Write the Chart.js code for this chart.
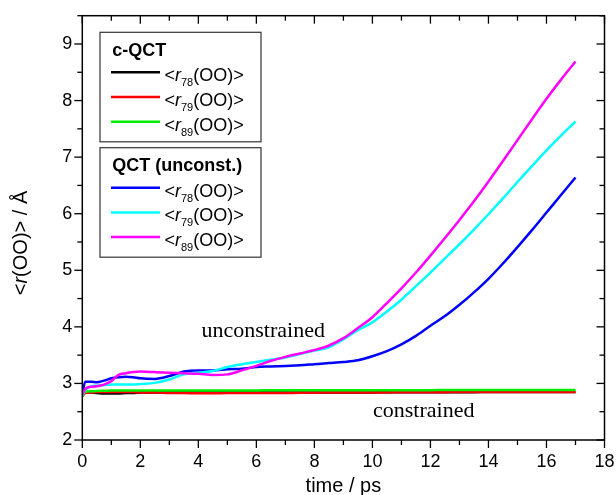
<!DOCTYPE html>
<html><head><meta charset="utf-8">
<script src="https://cdn.jsdelivr.net/npm/chart.js@4"></script>
<style>html,body{margin:0;padding:0;background:#fff}#wrap{width:616px;height:495px;position:relative}</style>
</head><body><div id="wrap"><canvas id="c" width="616" height="495"></canvas></div>
<script>
// ---------------- data ----------------
const timePs = [0,0.1,0.3,0.5,0.75,1,1.25,1.5,1.75,2,2.5,3,3.5,4,4.5,5,5.5,6,6.5,7,7.5,8,8.5,9,9.5,10,10.5,11,11.5,12,12.5,13,13.5,14,14.5,15,15.5,16,16.5,17];

// c-QCT (constrained)
const cqctR78 = [2.78,2.84,2.84,2.83,2.82,2.82,2.82,2.83,2.83,2.84,2.84,2.84,2.84,2.84,2.84,2.84,2.84,2.84,2.84,2.84,2.84,2.84,2.84,2.84,2.84,2.84,2.845,2.845,2.845,2.845,2.845,2.845,2.845,2.85,2.85,2.85,2.85,2.85,2.85,2.85];
const cqctR79 = [2.78,2.83,2.84,2.85,2.85,2.85,2.85,2.85,2.85,2.84,2.84,2.83,2.83,2.825,2.825,2.83,2.83,2.83,2.83,2.83,2.835,2.835,2.84,2.84,2.84,2.84,2.84,2.845,2.845,2.845,2.845,2.85,2.85,2.85,2.85,2.85,2.85,2.85,2.85,2.85];
const cqctR89 = [2.78,2.85,2.86,2.865,2.87,2.875,2.875,2.875,2.875,2.875,2.875,2.875,2.875,2.875,2.875,2.875,2.875,2.875,2.88,2.88,2.88,2.88,2.88,2.88,2.88,2.88,2.88,2.88,2.88,2.88,2.885,2.885,2.885,2.885,2.885,2.885,2.885,2.885,2.885,2.885];

// QCT (unconstrained)
const qctR78 = [2.80,3.03,3.03,3.02,3.05,3.09,3.11,3.12,3.11,3.09,3.08,3.13,3.21,3.23,3.23,3.25,3.26,3.29,3.30,3.31,3.32,3.34,3.36,3.38,3.41,3.48,3.57,3.69,3.84,4.02,4.19,4.39,4.61,4.85,5.12,5.41,5.71,6.02,6.33,6.64];
const qctR79 = [2.80,2.88,2.95,2.96,2.97,2.98,2.98,2.98,2.98,2.99,3.01,3.07,3.16,3.19,3.22,3.29,3.34,3.38,3.42,3.46,3.52,3.58,3.64,3.78,3.94,4.08,4.27,4.48,4.72,4.96,5.21,5.46,5.72,5.99,6.27,6.56,6.84,7.12,7.38,7.63];
const qctR89 = [2.80,2.90,2.94,2.95,2.98,3.04,3.15,3.18,3.20,3.21,3.20,3.19,3.18,3.17,3.15,3.16,3.23,3.31,3.40,3.47,3.53,3.59,3.67,3.80,3.98,4.17,4.42,4.68,4.96,5.26,5.57,5.89,6.22,6.57,6.93,7.30,7.67,8.03,8.37,8.69];

const xTickValues = [0,2,4,6,8,10,12,14,16,18];
const yTickValues = [2,3,4,5,6,7,8,9];

const legendGroups = [
  { title: 'c-QCT', subs: ['78','79','89'], colors: ['#000000','#ff0000','#00ee00'] },
  { title: 'QCT (unconst.)', subs: ['78','79','89'], colors: ['#0000ff','#00ffff','#ff00ff'] }
];

const xTitle = 'time / ps';
const annotations = [
  { text: 'unconstrained', t: 4.11, v: 3.82 },
  { text: 'constrained', t: 10.02, v: 2.415 }
];

// ---------------- chart ----------------
const SANS = '"Liberation Sans", Arial, sans-serif';
const SERIF = '"Liberation Serif", "Times New Roman", serif';

function series(vals) { return timePs.map((t, i) => ({ x: t, y: vals[i] })); }
function ds(vals, color, order) {
  return { data: series(vals), borderColor: color, backgroundColor: color, borderWidth: 2.5,
           pointRadius: 0, cubicInterpolationMode: 'monotone', order: order };
}

const framePlugin = {
  id: 'frame',
  afterDraw(chart) {
    const ctx = chart.ctx, a = chart.chartArea, xs = chart.scales.x, ys = chart.scales.y;
    ctx.save();
    ctx.strokeStyle = '#000'; ctx.lineWidth = 1.5;
    ctx.strokeRect(a.left, a.top, a.right - a.left, a.bottom - a.top);
    ctx.lineWidth = 1.3;
    const MAJ = 8, MIN = 5;
    const xt = [];
    xTickValues.forEach((v, i) => { xt.push([v, MAJ]); if (i < xTickValues.length - 1) xt.push([(v + xTickValues[i+1]) / 2, MIN]); });
    xt.forEach(([v, len]) => {
      const p = xs.getPixelForValue(v);
      ctx.beginPath(); ctx.moveTo(p, a.bottom); ctx.lineTo(p, a.bottom + len); ctx.stroke();
      ctx.beginPath(); ctx.moveTo(p, a.top); ctx.lineTo(p, a.top + len); ctx.stroke();
    });
    const yt = [];
    yTickValues.forEach((v, i) => { yt.push([v, MAJ]); const nxt = i < yTickValues.length - 1 ? yTickValues[i+1] : v + 1; if ((v + nxt) / 2 <= ys.max) yt.push([(v + nxt) / 2, MIN]); });
    yt.forEach(([v, len]) => {
      const p = ys.getPixelForValue(v);
      ctx.beginPath(); ctx.moveTo(a.left - len, p); ctx.lineTo(a.left, p); ctx.stroke();
      ctx.beginPath(); ctx.moveTo(a.right - len, p); ctx.lineTo(a.right, p); ctx.stroke();
    });

    // axis titles
    ctx.fillStyle = '#000';
    ctx.font = '20px ' + SANS; ctx.textAlign = 'center'; ctx.textBaseline = 'alphabetic';
    ctx.fillText(xTitle, (a.left + a.right) / 2, 491.5);

    // y title: <r(OO)> / Å  (r italic), rotated
    const parts = [['<', ''], ['r', 'italic '], ['(OO)> / Å', '']];
    let w = 0;
    parts.forEach(([s, st]) => { ctx.font = st + '20px ' + SANS; w += ctx.measureText(s).width; });
    ctx.save();
    ctx.translate(21, 243); ctx.rotate(-Math.PI / 2);
    ctx.textAlign = 'left'; ctx.textBaseline = 'middle';
    let x = -w / 2;
    parts.forEach(([s, st]) => { ctx.font = st + '20px ' + SANS; ctx.fillText(s, x, 0); x += ctx.measureText(s).width; });
    ctx.restore();

    // annotations
    ctx.font = '22px ' + SERIF; ctx.textAlign = 'left'; ctx.textBaseline = 'alphabetic';
    annotations.forEach(an => ctx.fillText(an.text, xs.getPixelForValue(an.t), ys.getPixelForValue(an.v)));

    // legend boxes
    const boxL = 100, boxW = 161;
    const boxTops = [32.3, 147.7], boxH = 109.5;
    legendGroups.forEach((g, gi) => {
      const top = boxTops[gi];
      ctx.lineWidth = 1.2; ctx.strokeStyle = '#333';
      ctx.strokeRect(boxL, top, boxW, boxH);
      ctx.fillStyle = '#000';
      ctx.font = 'bold 18px ' + SANS; ctx.textAlign = 'left'; ctx.textBaseline = 'alphabetic';
      ctx.fillText(g.title, 112.3, top + 23.5);
      g.subs.forEach((sub, i) => {
        const ly = top + 40 + i * 24.7;
        ctx.strokeStyle = g.colors[i]; ctx.lineWidth = 2.5;
        ctx.beginPath(); ctx.moveTo(111, ly); ctx.lineTo(160, ly); ctx.stroke();
        const b = ly + 9;
        let tx = 164.5;
        ctx.fillStyle = '#000';
        ctx.font = '18px ' + SANS; ctx.fillText('<', tx, b); tx += ctx.measureText('<').width;
        ctx.font = 'italic 18px ' + SANS; ctx.fillText('r', tx, b); tx += ctx.measureText('r').width;
        ctx.font = '11px ' + SANS; ctx.fillText(sub, tx, b + 5); tx += ctx.measureText(sub).width;
        ctx.font = '18px ' + SANS; ctx.fillText('(OO)>', tx, b);
      });
    });
    ctx.restore();
  }
};

new Chart(document.getElementById('c'), {
  type: 'line',
  data: {
    datasets: [
      ds(cqctR78, '#000000', 6),
      ds(cqctR79, '#ff0000', 5),
      ds(cqctR89, '#00ee00', 4),
      ds(qctR78, '#0000ff', 3),
      ds(qctR79, '#00ffff', 2),
      ds(qctR89, '#ff00ff', 1)
    ]
  },
  options: {
    responsive: false, animation: false, devicePixelRatio: 1,
    layout: { padding: { top: 15.7, right: 11.5, left: 0, bottom: 0 } },
    plugins: { legend: { display: false }, tooltip: { enabled: false } },
    scales: {
      x: {
        type: 'linear', min: 0, max: 18,
        grid: { display: false, drawTicks: false }, border: { display: false },
        afterBuildTicks: s => { s.ticks = xTickValues.map(v => ({ value: v })); },
        afterFit: s => { s.height = 55; s.paddingLeft = 0; s.paddingRight = 0; s.paddingTop = 0; s.paddingBottom = 0; },
        ticks: { padding: 11, color: '#000', maxRotation: 0, font: { family: SANS, size: 18 } }
      },
      y: {
        type: 'linear', min: 2, max: 9.5,
        grid: { display: false, drawTicks: false }, border: { display: false },
        afterBuildTicks: s => { s.ticks = yTickValues.map(v => ({ value: v })); },
        afterFit: s => { s.width = 82.3; s.paddingLeft = 0; s.paddingRight = 0; s.paddingTop = 0; s.paddingBottom = 0; },
        ticks: { padding: 10, color: '#000', font: { family: SANS, size: 18 } }
      }
    }
  },
  plugins: [framePlugin]
});
</script>
</body></html>
